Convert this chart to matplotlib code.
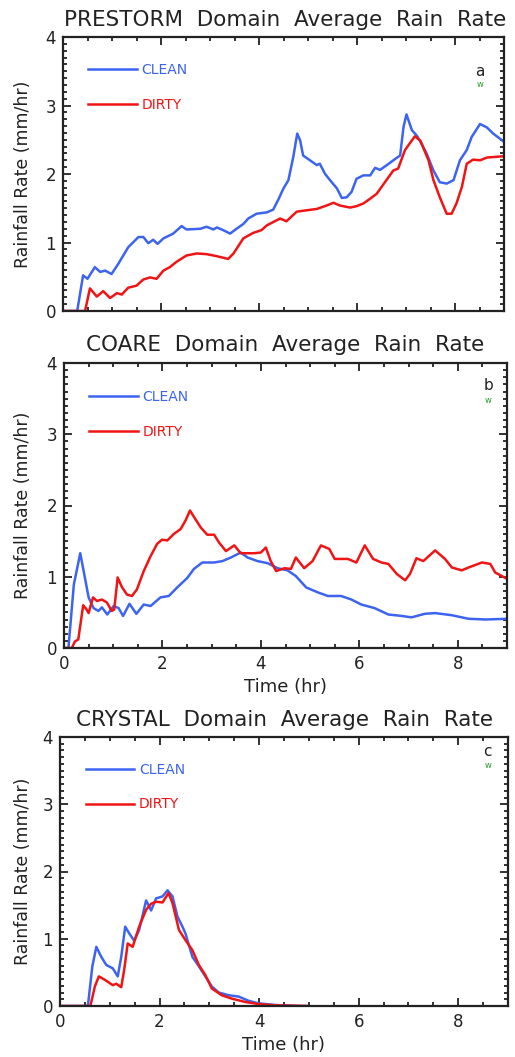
import matplotlib
matplotlib.use("Agg")
import matplotlib.pyplot as plt
from matplotlib.ticker import MultipleLocator

# ---------------- data (time in hr, rain rate in mm/hr) ----------------
prestorm_clean_t = [0.0, 0.29, 0.41, 0.50, 0.65, 0.76, 0.86, 0.99, 1.13, 1.33, 1.54, 1.64,
                    1.74, 1.84, 1.93, 2.05, 2.25, 2.42, 2.52, 2.80, 2.93, 3.07, 3.14, 3.27,
                    3.41, 3.54, 3.68, 3.78, 3.95, 4.16, 4.29, 4.39, 4.50, 4.60, 4.70, 4.78,
                    4.84, 4.90, 5.04, 5.18, 5.24, 5.35, 5.45, 5.59, 5.69, 5.79, 5.89, 5.99,
                    6.13, 6.27, 6.37, 6.47, 6.61, 6.78, 6.88, 6.95, 7.01, 7.12, 7.22, 7.32,
                    7.42, 7.56, 7.69, 7.83, 7.97, 8.10, 8.24, 8.34, 8.51, 8.65, 8.78, 9.0]
prestorm_clean_r = [0.0, 0.0, 0.52, 0.47, 0.64, 0.57, 0.59, 0.54, 0.69, 0.93, 1.08, 1.08,
                    0.99, 1.04, 0.98, 1.06, 1.13, 1.24, 1.19, 1.20, 1.23, 1.19, 1.22, 1.18,
                    1.13, 1.20, 1.27, 1.35, 1.42, 1.44, 1.48, 1.62, 1.79, 1.91, 2.25, 2.59,
                    2.49, 2.27, 2.20, 2.13, 2.15, 2.00, 1.91, 1.79, 1.65, 1.66, 1.74, 1.93,
                    1.98, 1.98, 2.09, 2.06, 2.13, 2.22, 2.27, 2.69, 2.87, 2.64, 2.56, 2.44,
                    2.30, 2.05, 1.88, 1.86, 1.91, 2.20, 2.35, 2.54, 2.73, 2.68, 2.59, 2.47]

prestorm_dirty_t = [0.0, 0.45, 0.55, 0.69, 0.82, 0.96, 1.10, 1.20, 1.33, 1.50, 1.64, 1.78,
                    1.91, 2.05, 2.18, 2.32, 2.52, 2.73, 2.93, 3.14, 3.37, 3.48, 3.68, 3.88,
                    4.05, 4.16, 4.43, 4.56, 4.77, 4.97, 5.18, 5.38, 5.52, 5.65, 5.86, 5.99,
                    6.13, 6.27, 6.40, 6.57, 6.74, 6.84, 6.98, 7.18, 7.29, 7.46, 7.56, 7.69,
                    7.83, 7.93, 8.03, 8.14, 8.24, 8.37, 8.51, 8.65, 9.0]
prestorm_dirty_r = [0.0, 0.0, 0.33, 0.21, 0.29, 0.19, 0.26, 0.24, 0.34, 0.37, 0.46, 0.49,
                    0.47, 0.59, 0.64, 0.72, 0.81, 0.84, 0.83, 0.80, 0.76, 0.84, 1.06, 1.14,
                    1.18, 1.25, 1.35, 1.31, 1.45, 1.47, 1.49, 1.54, 1.58, 1.54, 1.51, 1.53,
                    1.57, 1.64, 1.71, 1.88, 2.05, 2.08, 2.35, 2.55, 2.49, 2.20, 1.91, 1.66,
                    1.42, 1.42, 1.57, 1.81, 2.15, 2.21, 2.20, 2.24, 2.26]

coare_clean_t = [0.0, 0.09, 0.20, 0.33, 0.41, 0.50, 0.60, 0.70, 0.77, 0.88, 1.01, 1.11,
                 1.20, 1.33, 1.47, 1.62, 1.76, 1.96, 2.13, 2.30, 2.50, 2.64, 2.81, 3.05,
                 3.22, 3.39, 3.59, 3.73, 3.93, 4.14, 4.34, 4.54, 4.71, 4.92, 5.16, 5.36,
                 5.63, 5.84, 6.04, 6.31, 6.59, 6.86, 7.06, 7.33, 7.54, 7.88, 8.22, 8.56, 9.0]
coare_clean_r = [0.0, 0.0, 0.89, 1.33, 1.04, 0.71, 0.56, 0.52, 0.57, 0.47, 0.59, 0.56,
                 0.45, 0.62, 0.48, 0.61, 0.59, 0.71, 0.73, 0.85, 0.98, 1.11, 1.20, 1.20,
                 1.22, 1.27, 1.34, 1.27, 1.22, 1.19, 1.12, 1.09, 1.01, 0.85, 0.78, 0.73,
                 0.73, 0.68, 0.61, 0.56, 0.47, 0.45, 0.43, 0.48, 0.49, 0.46, 0.41, 0.40, 0.41]

coare_dirty_t = [0.0, 0.16, 0.22, 0.29, 0.39, 0.46, 0.50, 0.59, 0.67, 0.77, 0.87, 0.97,
                 1.02, 1.09, 1.18, 1.28, 1.38, 1.48, 1.62, 1.76, 1.89, 1.99, 2.10, 2.23,
                 2.37, 2.47, 2.56, 2.64, 2.78, 2.91, 3.05, 3.15, 3.29, 3.46, 3.59, 3.86,
                 4.00, 4.10, 4.20, 4.31, 4.48, 4.61, 4.71, 4.88, 5.05, 5.22, 5.39, 5.50,
                 5.77, 5.94, 6.11, 6.28, 6.45, 6.59, 6.76, 6.93, 7.03, 7.16, 7.30, 7.54,
                 7.74, 7.88, 8.08, 8.22, 8.49, 8.66, 8.76, 9.0]
coare_dirty_r = [0.0, 0.0, 0.09, 0.12, 0.60, 0.54, 0.49, 0.71, 0.66, 0.68, 0.64, 0.52,
                 0.54, 0.99, 0.85, 0.75, 0.73, 0.82, 1.08, 1.29, 1.46, 1.52, 1.51, 1.60,
                 1.67, 1.79, 1.93, 1.84, 1.69, 1.59, 1.59, 1.48, 1.36, 1.44, 1.33, 1.33,
                 1.34, 1.41, 1.22, 1.08, 1.12, 1.11, 1.27, 1.12, 1.22, 1.44, 1.39, 1.25,
                 1.25, 1.20, 1.44, 1.25, 1.20, 1.18, 1.04, 0.95, 1.04, 1.26, 1.22, 1.37,
                 1.25, 1.13, 1.09, 1.13, 1.20, 1.18, 1.06, 0.97]

crystal_clean_t = [0.0, 0.56, 0.65, 0.73, 0.83, 0.93, 1.06, 1.16, 1.23, 1.31, 1.39, 1.49,
                   1.59, 1.73, 1.83, 1.93, 2.06, 2.16, 2.26, 2.36, 2.46, 2.52, 2.66, 2.79,
                   2.92, 3.05, 3.19, 3.39, 3.59, 3.78, 3.98, 4.32, 4.78, 4.98]
crystal_clean_r = [0.0, 0.0, 0.59, 0.88, 0.73, 0.61, 0.56, 0.44, 0.73, 1.18, 1.08, 0.97,
                   1.13, 1.57, 1.42, 1.60, 1.63, 1.72, 1.63, 1.33, 1.18, 1.08, 0.73, 0.59,
                   0.44, 0.29, 0.20, 0.16, 0.14, 0.08, 0.04, 0.015, 0.0, 0.0]

crystal_dirty_t = [0.0, 0.61, 0.70, 0.78, 0.90, 1.06, 1.13, 1.23, 1.29, 1.36, 1.46, 1.59,
                   1.73, 1.83, 1.93, 2.06, 2.18, 2.26, 2.39, 2.52, 2.66, 2.79, 2.92, 3.05,
                   3.25, 3.45, 3.72, 3.98, 4.32, 4.98]
crystal_dirty_r = [0.0, 0.0, 0.29, 0.44, 0.39, 0.31, 0.33, 0.28, 0.54, 0.93, 0.88, 1.18,
                   1.43, 1.52, 1.55, 1.54, 1.68, 1.53, 1.13, 0.98, 0.83, 0.61, 0.46, 0.26,
                   0.16, 0.11, 0.06, 0.03, 0.01, 0.0]

titles = ["PRESTORM  Domain  Average  Rain  Rate",
          "COARE  Domain  Average  Rain  Rate",
          "CRYSTAL  Domain  Average  Rain  Rate"]
panel_letters = ["a", "b", "c"]
series_labels = ["CLEAN", "DIRTY"]
x_ticks = [0, 2, 4, 6, 8]
y_ticks = [0, 1, 2, 3, 4]

CLEAN_COLOR = "#3c64f0"
DIRTY_COLOR = "#f01414"
INK = "#222222"

W, H = 515, 1057
fig = plt.figure(figsize=(W / 100, H / 100), dpi=100)
plt.rcParams["font.family"] = ["DejaVu Sans"]


def px_axes(left, right, top, bottom):
    return fig.add_axes([left / W, 1 - bottom / H, (right - left) / W, (bottom - top) / H])


panels = [
    dict(box=(63, 504, 37, 311), title_y=20, xlabels=False,
         clean=(prestorm_clean_t, prestorm_clean_r), dirty=(prestorm_dirty_t, prestorm_dirty_r),
         letter_pos=(0.946, 0.875)),
    dict(box=(64, 507, 363, 648), title_y=345, xlabels=True,
         clean=(coare_clean_t, coare_clean_r), dirty=(coare_dirty_t, coare_dirty_r),
         letter_pos=(0.958, 0.92)),
    dict(box=(60, 508, 737, 1006), title_y=720, xlabels=True,
         clean=(crystal_clean_t, crystal_clean_r), dirty=(crystal_dirty_t, crystal_dirty_r),
         letter_pos=(0.955, 0.945)),
]

for i, p in enumerate(panels):
    left, right, top, bottom = p["box"]
    ax = px_axes(left, right, top, bottom)
    ax.plot(*p["clean"], color=CLEAN_COLOR, lw=1.8, label=series_labels[0], solid_joinstyle="round")
    ax.plot(*p["dirty"], color=DIRTY_COLOR, lw=1.8, label=series_labels[1], solid_joinstyle="round")
    ax.set_xlim(0, 9)
    ax.set_ylim(0, 4)

    ax.set_xticks(x_ticks)
    ax.set_yticks(y_ticks)
    ax.xaxis.set_minor_locator(MultipleLocator(0.5))
    ax.yaxis.set_minor_locator(MultipleLocator(0.1))
    ax.tick_params(which="both", direction="in", top=True, right=True, width=1.3, color=INK)
    ax.tick_params(which="major", length=5.5)
    ax.tick_params(which="minor", length=3)
    ax.tick_params(axis="both", which="major", labelsize=12, pad=5, labelcolor=INK)
    if not p["xlabels"]:
        ax.tick_params(axis="x", labelbottom=False)
    for s in ax.spines.values():
        s.set_linewidth(1.6)
        s.set_color(INK)

    # y label: its outer (right) edge sits about 32 px from the figure edge
    ax.set_ylabel("Rainfall Rate (mm/hr)", fontsize=12.5, color=INK)
    ax.yaxis.set_label_coords((32 - left) / (right - left), 0.5)
    if p["xlabels"]:
        ax.set_xlabel("Time (hr)", fontsize=13, color=INK, labelpad=4)

    fig.text(285 / W, 1 - p["title_y"] / H, titles[i], fontsize=15.5, color=INK,
             ha="center", va="center")

    ax.legend(loc="upper left", bbox_to_anchor=(0.057, 0.905), frameon=False,
              handlelength=3.5, handletextpad=0.35, labelspacing=1.5,
              borderpad=0, borderaxespad=0, fontsize=10, labelcolor="linecolor")

    lx, ly = p["letter_pos"]
    ax.text(lx, ly, panel_letters[i], transform=ax.transAxes, fontsize=11,
            ha="center", va="center", color=INK)
    ax.text(lx, ly - 0.05, "w", transform=ax.transAxes, fontsize=6,
            ha="center", va="center", color="#2a9a2a")

fig.savefig("out.png", dpi=100)
